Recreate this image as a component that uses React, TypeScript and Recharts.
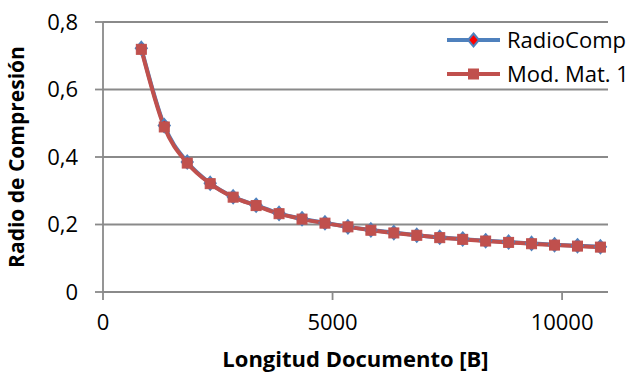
import { LineChart, Line, XAxis, YAxis, CartesianGrid, Label } from "recharts";

// document length in bytes
const lengths = [
  835, 1335, 1835, 2335, 2835, 3335, 3835, 4335, 4835, 5335, 5835,
  6335, 6835, 7335, 7835, 8335, 8835, 9335, 9835, 10335, 10835,
];
const radioComp = [
  0.722, 0.493, 0.385, 0.322, 0.282, 0.257, 0.233, 0.217, 0.205, 0.193, 0.184,
  0.176, 0.168, 0.162, 0.157, 0.152, 0.148, 0.144, 0.14, 0.137, 0.134,
];
const modMat1 = [
  0.719, 0.489, 0.382, 0.321, 0.281, 0.256, 0.232, 0.216, 0.204, 0.193, 0.183,
  0.175, 0.168, 0.161, 0.156, 0.151, 0.147, 0.143, 0.139, 0.136, 0.133,
];
const xTicks = [0, 5000, 10000];
const yTicks = [0, 0.2, 0.4, 0.6, 0.8];

const BLUE = "#4F81BD";
const RED = "#C0504D";
const GRID = "#8a8a8a";
const FONT = "'Open Sans', sans-serif";

const data = lengths.map((x, i) => ({
  x,
  radio: radioComp[i],
  mod: modMat1[i],
}));

const Diamond = ({ cx, cy }: any) => (
  <path
    d={`M${cx},${cy - 6.5} L${cx + 5.5},${cy} L${cx},${cy + 6.5} L${cx - 5.5},${cy} Z`}
    fill="#FF0000"
    stroke={BLUE}
    strokeWidth={2}
  />
);

const Square = ({ cx, cy }: any) => (
  <rect x={cx - 5} y={cy - 5} width={10} height={10} fill={RED} stroke={RED} />
);

// legend sits over the top-right of the plot, like the original sheet
function ChartLegend() {
  return (
    <svg
      width={193}
      height={70}
      style={{ position: "absolute", left: 447, top: 25, overflow: "visible" }}
    >
      <line x1={0} y1={15} x2={53} y2={15} stroke={BLUE} strokeWidth={4} />
      <Diamond cx={26.5} cy={15} />
      <text x={60} y={23} fontFamily={FONT} fontSize={22} fill="#000">
        RadioComp
      </text>
      <line x1={0} y1={49} x2={53} y2={49} stroke={RED} strokeWidth={4} />
      <Square cx={26.5} cy={49} />
      <text x={60} y={57} fontFamily={FONT} fontSize={22} fill="#000">
        Mod. Mat. 1
      </text>
    </svg>
  );
}

export default function App() {
  return (
    <div style={{ position: "relative", width: 640, height: 373, background: "#fff", overflow: "hidden" }}>
      <style>{`body{margin:0}`}</style>
      <LineChart
        width={640}
        height={373}
        data={data}
        margin={{ top: 22, right: 32, bottom: 0, left: 0 }}
      >
        <CartesianGrid vertical={false} stroke={GRID} strokeWidth={1.8} />
        <XAxis
          dataKey="x"
          type="number"
          domain={[0, 11000]}
          ticks={xTicks}
          allowDataOverflow
          height={81}
          tickSize={8}
          tickMargin={14}
          axisLine={{ stroke: GRID, strokeWidth: 1.8 }}
          tickLine={{ stroke: GRID, strokeWidth: 1.8 }}
          tick={{ fill: "#000", fontSize: 22, fontFamily: FONT }}
        >
          <Label
            content={({ viewBox }: any) => (
              <text
                x={viewBox.x + viewBox.width / 2}
                y={367}
                textAnchor="middle"
                fontFamily={FONT}
                fontWeight="bold"
                fontSize={22}
                fill="#000"
              >
                Longitud Documento [B]
              </text>
            )}
          />
        </XAxis>
        <YAxis
          type="number"
          domain={[0, 0.8]}
          ticks={yTicks}
          width={103}
          tickSize={8}
          tickMargin={17}
          tickFormatter={(v: number) => String(v).replace(".", ",")}
          axisLine={{ stroke: GRID, strokeWidth: 1.8 }}
          tickLine={{ stroke: GRID, strokeWidth: 1.8 }}
          tick={{ fill: "#000", fontSize: 22, fontFamily: FONT }}
        >
          <Label
            content={({ viewBox }: any) => {
              const cy = viewBox.y + viewBox.height / 2;
              return (
                <text
                  x={24}
                  y={cy}
                  transform={`rotate(-90 24 ${cy})`}
                  textAnchor="middle"
                  fontFamily={FONT}
                  fontWeight="bold"
                  fontSize={21}
                  fill="#000"
                >
                  Radio de Compresión
                </text>
              );
            }}
          />
        </YAxis>
        <Line
          type="monotone"
          dataKey="radio"
          name="RadioComp"
          stroke={BLUE}
          strokeWidth={4}
          dot={<Diamond />}
          isAnimationActive={false}
        />
        <Line
          type="monotone"
          dataKey="mod"
          name="Mod. Mat. 1"
          stroke={RED}
          strokeWidth={4}
          dot={<Square />}
          isAnimationActive={false}
        />
      </LineChart>
      <ChartLegend />
    </div>
  );
}
